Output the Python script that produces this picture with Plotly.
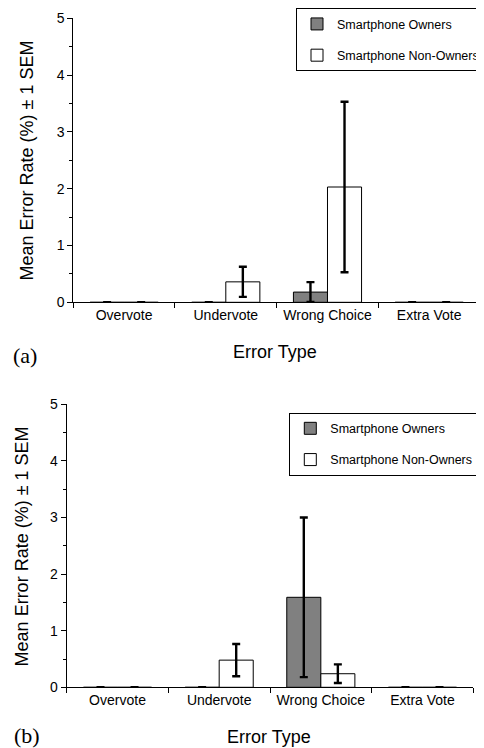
import plotly.graph_objects as go

categories = ["Overvote", "Undervote", "Wrong Choice", "Extra Vote"]
series_names = ["Smartphone Owners", "Smartphone Non-Owners"]

# Panel (a)
a_owners = [0, 0, 0.18, 0]
a_owners_sem = [0, 0, 0.175, 0]
a_nonowners = [0, 0.36, 2.03, 0]
a_nonowners_sem = [0, 0.265, 1.50, 0]

# Panel (b)
b_owners = [0, 0, 1.59, 0]
b_owners_sem = [0, 0, 1.41, 0]
b_nonowners = [0, 0.48, 0.24, 0]
b_nonowners_sem = [0, 0.285, 0.165, 0]

y_ticks = [0, 1, 2, 3, 4, 5]
y_title = "Mean Error Rate (%) ± 1 SEM"
x_title = "Error Type"
panel_labels = ["(a)", "(b)"]

W, H = 484, 748
OFF = 8  # page body margin offset
FONT = "Liberation Sans, Arial, Helvetica, sans-serif"


def px(X):
    return (X - OFF) / W


def py(Y):
    return (H - (Y - OFF)) / H


fig = go.Figure()


def add_panel(owners, owners_sem, non, non_sem, xa, ya, legend):
    fig.add_trace(go.Bar(
        x=categories, y=owners, name=series_names[0], xaxis=xa, yaxis=ya,
        marker=dict(color="#808080", line=dict(color="black", width=1)),
        error_y=dict(type="data", array=owners_sem, visible=True, color="black",
                     thickness=2.4, width=4),
        legend=legend, legendgroup=legend + "o", offsetgroup="o",
    ))
    fig.add_trace(go.Bar(
        x=categories, y=non, name=series_names[1], xaxis=xa, yaxis=ya,
        marker=dict(color="white", line=dict(color="black", width=1)),
        error_y=dict(type="data", array=non_sem, visible=True, color="black",
                     thickness=2.4, width=4),
        legend=legend, legendgroup=legend + "n", offsetgroup="n",
    ))


add_panel(a_owners, a_owners_sem, a_nonowners, a_nonowners_sem, "x", "y", "legend")
add_panel(b_owners, b_owners_sem, b_nonowners, b_nonowners_sem, "x2", "y2", "legend2")

xaxis_common = dict(
    type="category", showline=True, linecolor="black", linewidth=1,
    ticks="outside", tickson="boundaries", ticklen=5, tickcolor="black",
    tickfont=dict(family=FONT, size=14, color="black"), showgrid=False,
    zeroline=False, fixedrange=True, automargin=False,
)
yaxis_common = dict(
    range=[0, 5], tickvals=y_ticks, showline=True, linecolor="black", linewidth=1,
    ticks="outside", ticklen=5, tickcolor="black",
    tickfont=dict(family=FONT, size=14, color="black"), showgrid=False,
    zeroline=False, automargin=False,
    minor=dict(dtick=0.5, ticks="outside", ticklen=3, tickcolor="black", showgrid=False),
)

legend_common = dict(
    bordercolor="black", borderwidth=1, bgcolor="white",
    font=dict(family=FONT, size=12.5, color="black"),
    xanchor="left", yanchor="top", tracegroupgap=12,
    traceorder="grouped", itemwidth=30,
)

fig.update_layout(
    width=W, height=H, margin=dict(l=0, r=0, t=0, b=0, autoexpand=False),
    paper_bgcolor="white", plot_bgcolor="white",
    barmode="group", bargap=0.33, bargroupgap=0,
    showlegend=True,
    xaxis=dict(domain=[px(73.3), px(480)], anchor="y", **xaxis_common),
    yaxis=dict(domain=[py(302.3), py(18.3)], anchor="x", **yaxis_common),
    xaxis2=dict(domain=[px(66.7), px(473.3)], anchor="y2", **xaxis_common),
    yaxis2=dict(domain=[py(687.3), py(404.3)], anchor="x2", **yaxis_common),
    legend=dict(x=px(296), y=py(8.3), **legend_common),
    legend2=dict(x=px(289.3), y=py(412.7), **legend_common),
)

annots = [
    dict(text=y_title, x=px(26.7), y=py(160.8), textangle=-90, font=dict(size=18)),
    dict(text=y_title, x=px(21.7), y=py(546.7), textangle=-90, font=dict(size=18)),
    dict(text=x_title, x=px(275.3), y=py(351.7), font=dict(size=18)),
    dict(text=x_title, x=px(268.7), y=py(736.7), font=dict(size=18)),
    dict(text=panel_labels[0], x=px(25), y=py(355),
         font=dict(size=22, family="Liberation Serif, Times New Roman, serif")),
    dict(text=panel_labels[1], x=px(27), y=py(735),
         font=dict(size=22, family="Liberation Serif, Times New Roman, serif")),
]
for a in annots:
    f = dict(family=FONT, color="black")
    f.update(a.pop("font"))
    fig.add_annotation(xref="paper", yref="paper", xanchor="center", yanchor="middle",
                       showarrow=False, font=f, **a)

fig.write_html("out.html")
